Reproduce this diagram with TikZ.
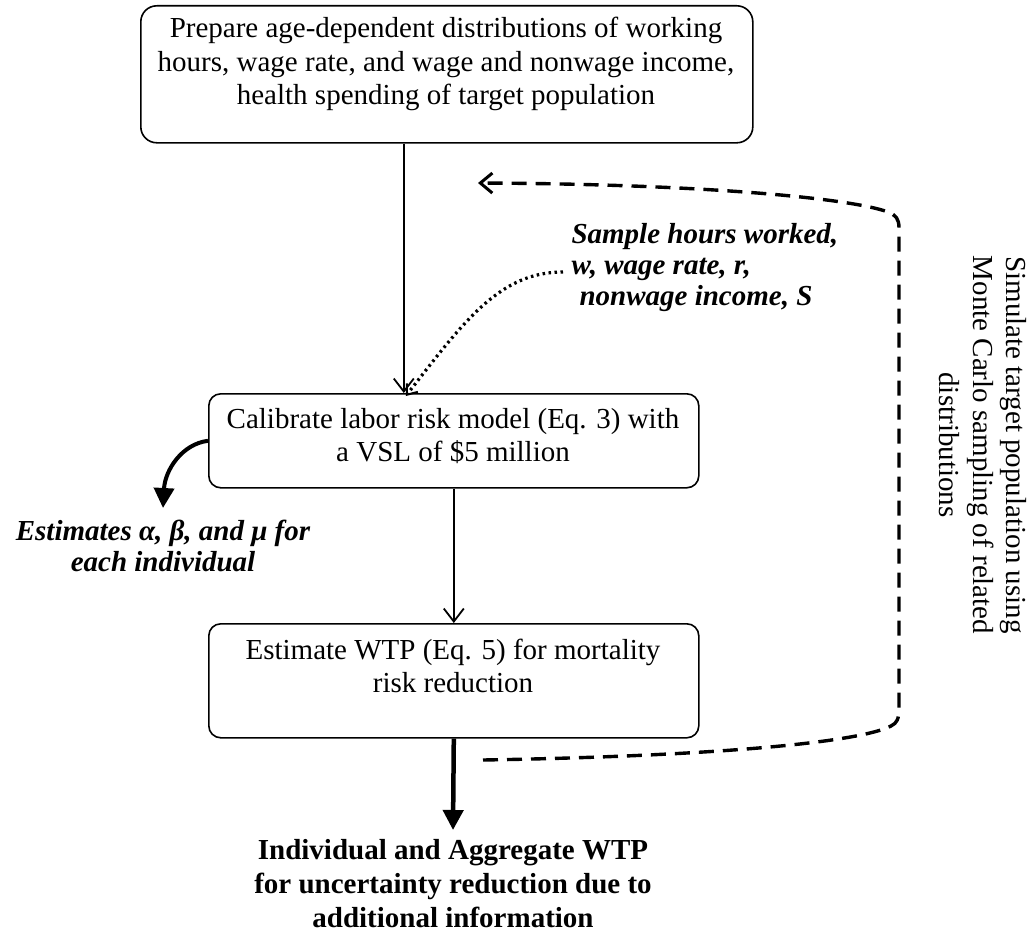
\documentclass[tikz,border=0pt]{standalone}
\usepackage{fontspec}
\setmainfont{Liberation Serif}
\usetikzlibrary{arrows.meta,calc}

\tikzset{
  stepbox/.style={draw, line width=1.6pt, rounded corners=12pt, anchor=north west, inner sep=0pt},
  boxtext/.style={align=center, font=\fontsize{29}{33.5}\selectfont},
  notetext/.style={font=\fontsize{29}{31}\selectfont\bfseries\itshape},
  flow/.style={line width=1.8pt, -{Straight Barb[length=13pt,width=20pt,line width=1.8pt]}},
  heavy/.style={line width=4.5pt, -{Triangle[length=20pt,width=20pt]}},
  sampling/.style={line width=3.2pt, dash pattern=on 2.5pt off 3.5pt, -{Straight Barb[length=9pt,width=14pt,line width=2pt]}},
  loopback/.style={line width=3.4pt, dash pattern=on 15pt off 9pt,
    -{Straight Barb[length=12pt,width=20pt,line width=3pt]}}
}

\begin{document}
\begin{tikzpicture}[x=1pt,y=-1pt]
\useasboundingbox (0,0) rectangle (1031,934);

% process boxes
\node[stepbox, minimum width=612pt, minimum height=137pt, rounded corners=16pt] (prep) at (140,5) {};
\node[boxtext] (preptext) at (446,64) {Prepare age-dependent distributions of working\\hours, wage rate, and wage and nonwage income,\\health spending of target population};

\node[stepbox, minimum width=490pt, minimum height=94pt] (cal) at (208,393) {};
\node[boxtext] (caltext) at (453,436) {Calibrate labor risk model (Eq. 3) with\\a VSL of \$5 million};

\node[stepbox, minimum width=490pt, minimum height=114pt] (wtp) at (208,623) {};
\node[boxtext] (wtptext) at (453,666) {Estimate WTP (Eq. 5) for mortality\\risk reduction};

% outcome
\node[boxtext, font=\fontsize{29}{34}\selectfont\bfseries] (result) at (453,884)
  {Individual and Aggregate WTP\\for uncertainty reduction due to\\additional information};

% side notes
\node[notetext, align=left, anchor=north west] (sample) at (568,220)
  {Sample hours worked,\\w, wage rate, r,\\\hspace*{8pt}nonwage income, S};
\coordinate (samplestart) at (563,272);

\node[notetext, align=center] (estimates) at (163,546)
  {Estimates α, β, and μ for\\each individual};

\node[boxtext, rotate=-90] (simulate) at (983,445)
  {Simulate target population using\\Monte Carlo sampling of related\\distributions};

% connectors
\draw[flow] ([xshift=-43pt]prep.south) -- ([xshift=-50pt]cal.north);
\draw[flow] (cal.south) -- (wtp.north);
\draw[heavy] (wtp.south) -- (453,830);
\draw[sampling] (samplestart) .. controls (500,272) and (465,320) .. ([xshift=-48pt,yshift=-3pt]cal.north);
\draw[heavy, line width=4pt] (cal.west) .. controls (182,444) and (165,470) .. (163,508);

% Monte Carlo loop back to the sampling step
\coordinate (loopstart) at (483,760);
\coordinate (looptip) at (478,183);
\draw[loopback] (loopstart)
  .. controls (720,756) and (860,742) .. (891,726)
  .. controls (897,723) and (899,719) .. (899,708)
  -- (899,228)
  .. controls (899,219) and (896,215) .. (888,212)
  .. controls (850,198) and (700,184) .. (looptip);
\end{tikzpicture}
\end{document}
